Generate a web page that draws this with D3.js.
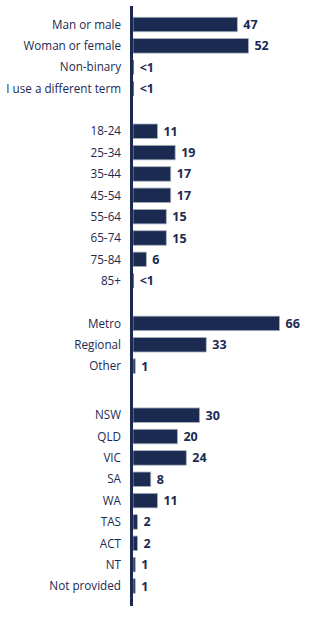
<!DOCTYPE html>
<html>
<head>
<meta charset="utf-8">
<script src="https://cdn.jsdelivr.net/npm/d3@7/dist/d3.min.js"></script>
<style>
  html, body { margin: 0; padding: 0; background: #fff; }
  svg { display: block; }
</style>
</head>
<body>
<div id="chart"></div>
<script>
// Respondent profile (%), four groups of horizontal bars
const genderLabels = ["Man or male", "Woman or female", "Non-binary", "I use a different term"];
const genderValues = [47, 52, 0.3, 0.3];

const ageLabels = ["18-24", "25-34", "35-44", "45-54", "55-64", "65-74", "75-84", "85+"];
const ageValues = [11, 19, 17, 17, 15, 15, 6, 0.3];

const locationLabels = ["Metro", "Regional", "Other"];
const locationValues = [66, 33, 1];

const stateLabels = ["NSW", "QLD", "VIC", "SA", "WA", "TAS", "ACT", "NT", "Not provided"];
const stateValues = [30, 20, 24, 8, 11, 2, 2, 1, 1];

const groups = [
  { labels: genderLabels, values: genderValues },
  { labels: ageLabels, values: ageValues },
  { labels: locationLabels, values: locationValues },
  { labels: stateLabels, values: stateValues }
];

const width = 324, height = 627;
const navy = "#1b2a51";
const axisX = 131.5;          // centre of the vertical axis line
const barStart = 133;
const labelRight = 121;
const rowStep = 21.35;
const firstRow = 24.5;
const groupGaps = [1, 1, 1.3];   // blank slots inserted after each group
const barH = 14.5;

// Flatten groups into rows with a slot index (blank slots between groups)
const rows = [];
let slot = 0;
groups.forEach((g, gi) => {
  g.labels.forEach((lab, i) => {
    rows.push({ label: lab, value: g.values[i], slot: slot });
    slot += 1;
  });
  if (gi < groupGaps.length) slot += groupGaps[gi];
});

const y = d3.scaleLinear()
  .domain([0, 1])
  .range([firstRow, firstRow + rowStep]);

const x = d3.scaleLinear()
  .domain([0, 66])
  .range([barStart, 279.5]);

const fmt = v => v < 1 ? "<1" : d3.format("d")(v);

const svg = d3.select("#chart").append("svg")
  .attr("width", width)
  .attr("height", height);

// Bars
svg.append("g").selectAll("rect")
  .data(rows)
  .join("rect")
  .attr("x", x(0))
  .attr("y", d => y(d.slot) - barH / 2)
  .attr("width", d => x(d.value) - x(0))
  .attr("height", barH)
  .attr("fill", navy)
  .attr("stroke", "#a9afbd")
  .attr("stroke-width", d => d.value >= 1 ? 0.8 : 0);

// Category labels
svg.append("g").selectAll("text")
  .data(rows)
  .join("text")
  .attr("x", labelRight)
  .attr("y", d => y(d.slot))
  .attr("dy", "0.36em")
  .attr("text-anchor", "end")
  .attr("font-family", "'Open Sans', 'Noto Sans', sans-serif")
  .attr("font-size", 11.7)
  .attr("fill", navy)
  .text(d => d.label);

// Value labels
svg.append("g").selectAll("text")
  .data(rows)
  .join("text")
  .attr("x", d => x(d.value) + 6)
  .attr("y", d => y(d.slot))
  .attr("dy", "0.36em")
  .attr("font-family", "'Open Sans', 'Noto Sans', sans-serif")
  .attr("font-size", 12.5)
  .attr("font-weight", "bold")
  .attr("fill", navy)
  .text(d => fmt(d.value));

// Vertical axis line
svg.append("line")
  .attr("x1", axisX).attr("x2", axisX)
  .attr("y1", 6).attr("y2", 606)
  .attr("stroke", navy)
  .attr("stroke-width", 3);
</script>
</body>
</html>
